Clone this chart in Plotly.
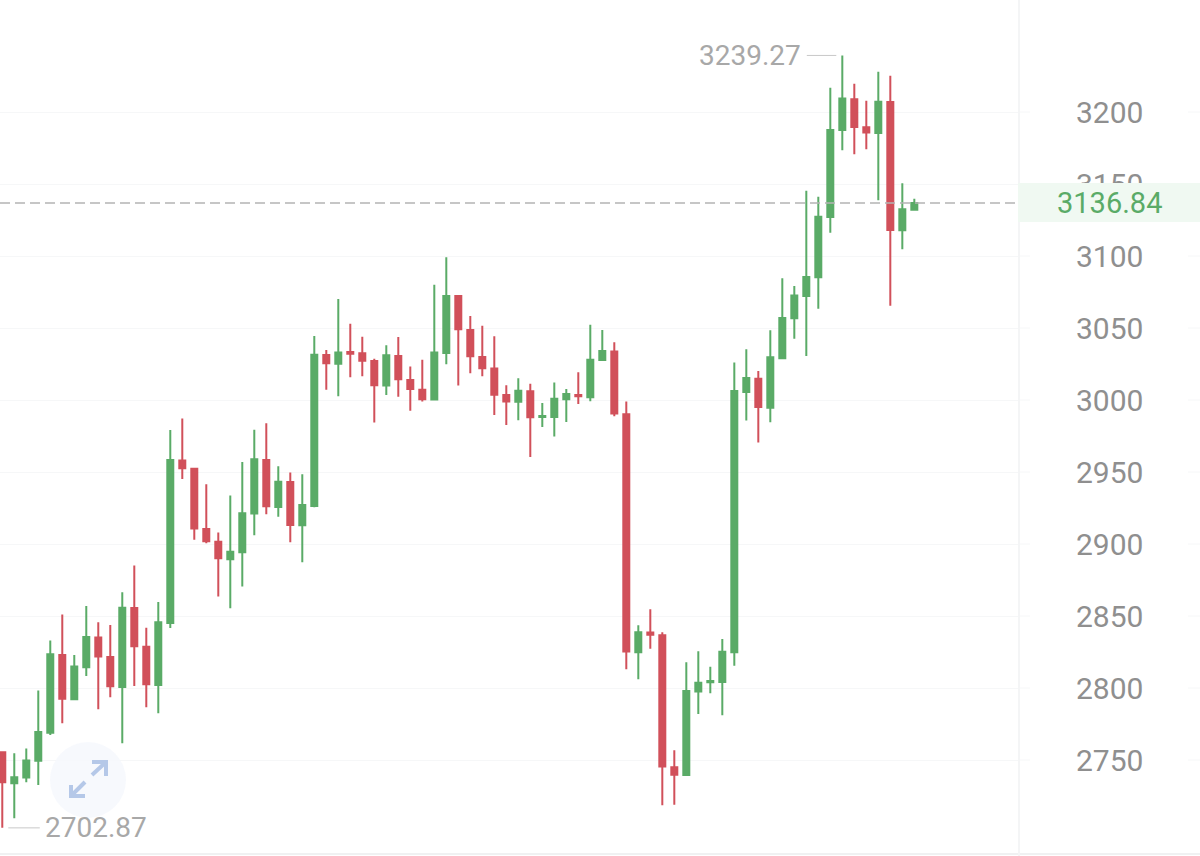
import plotly.graph_objects as go

opens = [2755.4,2733.9,2737.8,2749.4,2769.0,2823.0,2792.2,2814.4,2835.0,2821.6,
         2800.7,2855.6,2828.7,2802.1,2845.2,2957.9,2952.3,2910.5,2901.6,2889.4,
         2894.3,2921.1,2958.4,2925.7,2943.1,2913.0,2926.4,3031.3,3025.2,3033.4,
         3032.5,3027.1,3010.0,3030.6,3013.9,3007.2,3000.3,3032.7,3072.3,3048.6,
         3029.9,3021.8,3003.5,2998.7,3006.1,2988.2,2988.2,3000.5,3003.5,3001.9,
         3027.8,3033.6,2990.1,2824.8,2838.5,2836.6,2745.0,2739.6,2797.5,2804.0,
         2804.2,2824.8,3005.6,3014.8,2994.7,3029.0,3056.8,3072.3,3085.2,3127.1,
         3187.5,3208.8,3189.4,3185.4,3207.0,3117.9,3132.2]
closes = [2734.6,2738.0,2749.6,2769.5,2823.5,2792.6,2814.9,2835.5,2821.8,2801.2,
          2855.8,2829.0,2802.6,2845.7,2958.4,2952.6,2910.7,2901.9,2890.1,2894.7,
          2921.4,2958.9,2926.2,2943.3,2913.2,2927.1,3031.5,3025.5,3032.9,3032.2,
          3027.3,3010.2,3031.1,3014.4,3007.7,3000.5,3032.9,3072.3,3049.1,3030.4,
          3022.1,3003.7,2998.9,3006.5,2988.0,2988.9,3000.9,3004.2,3002.6,3028.0,
          3034.1,2990.7,2825.3,2838.7,2836.9,2745.4,2739.8,2798.0,2803.7,2804.9,
          2825.1,3006.3,3015.3,2995.2,3029.7,3057.0,3072.5,3085.5,3127.3,3187.5,
          3209.3,3189.6,3185.7,3207.2,3118.1,3132.5,3136.84]
highs = [2755.4,2754.7,2757.9,2798.2,2832.9,2851.0,2823.0,2857.0,2845.7,2843.8,
         2866.5,2885.0,2841.9,2859.8,2979.2,2987.1,2952.6,2941.5,2907.9,2933.6,
         2957.0,2979.4,2983.9,2954.0,2949.6,2948.4,3044.5,3034.8,3070.2,3053.0,
         3044.0,3028.7,3038.0,3043.8,3023.2,3028.0,3080.1,3099.1,3072.5,3058.4,
         3051.6,3044.3,3010.2,3015.1,3011.2,2998.0,3012.1,3007.7,3019.3,3052.3,
         3048.6,3040.1,2998.9,2843.6,2854.7,2838.7,2756.8,2817.9,2825.5,2814.8,
         2834.1,3026.1,3035.2,3020.2,3048.4,3084.5,3079.2,3145.4,3141.2,3216.9,
         3239.27,3219.7,3207.9,3228.0,3225.2,3150.5,3139.8]
lows = [2702.87,2709.6,2734.6,2732.7,2767.4,2775.5,2792.2,2808.4,2785.3,2793.6,
        2761.6,2801.4,2786.6,2782.5,2841.7,2945.2,2903.0,2900.5,2863.5,2855.4,
        2870.4,2906.1,2920.7,2919.0,2901.2,2887.3,2925.5,3007.2,3002.6,3015.8,
        3016.5,2984.3,3003.5,3002.3,2992.6,2998.9,3000.3,3024.8,3010.0,3018.6,
        3016.5,2989.6,2982.7,2985.9,2960.5,2981.3,2974.6,2984.8,2997.3,2999.1,
        3027.8,2988.8,2813.0,2806.1,2827.3,2718.6,2719.0,2739.6,2782.0,2796.4,
        2781.1,2815.5,2985.7,2970.5,2984.6,3029.0,3042.6,3030.6,3063.4,3116.2,
        3173.4,3170.7,3174.1,3138.7,3065.5,3104.7,3132.2]
y_ticks = [2750,2800,2850,2900,2950,3000,3050,3100,3150,3200]
last_price = 3136.84
high_price = 3239.27
low_price = 2702.87

GREEN = "#5aab67"
RED = "#d1505a"
GRID = "#f6f7f8"
W, H, PLOT_W = 1200, 856, 1018
FONT = "Roboto"

px = lambda x: x / PLOT_W
py = lambda y: 1 - y / H

fig = go.Figure(go.Candlestick(
    x=list(range(len(opens))), open=opens, high=highs, low=lows, close=closes,
    increasing=dict(line=dict(color=GREEN, width=2), fillcolor=GREEN),
    decreasing=dict(line=dict(color=RED, width=2), fillcolor=RED),
    whiskerwidth=0, hoverinfo="skip",
))

shapes = []
for t in y_ticks:
    for a, b in ((1018, 1030), (1188, 1200)):
        shapes.append(dict(type="line", xref="paper", yref="y", x0=px(a), x1=px(b),
                           y0=t, y1=t, line=dict(color=GRID, width=1), layer="below"))
shapes += [
    dict(type="line", xref="paper", yref="paper", x0=0, x1=px(1200), y0=py(854), y1=py(854),
         line=dict(color="#f0f1f2", width=2), layer="below"),
    dict(type="rect", xref="paper", yref="paper", x0=px(1018), x1=px(1200), y0=py(222), y1=py(183),
         fillcolor="#f0f9f2", line=dict(width=0), layer="above"),
    dict(type="line", xref="paper", yref="y", x0=0, x1=px(1015), y0=last_price, y1=last_price,
         line=dict(color="#b4b4b4", width=1.5, dash="10px,5px"), layer="above"),
    dict(type="circle", xref="paper", yref="paper", x0=px(50), x1=px(126), y0=py(818), y1=py(742),
         fillcolor="rgba(246,248,253,0.85)", line=dict(width=0), layer="above"),
]
def path(points):
    return "M" + " L".join(f"{px(x):.5f},{py(y):.5f}" for x, y in points)
icon = [[(92, 775), (106, 762)], [(92, 762), (106, 762), (106, 776)],
        [(85, 782), (71, 796)], [(71, 785), (71, 796), (85, 796)]]
for pts in icon:
    shapes.append(dict(type="path", xref="paper", yref="paper", path=path(pts),
                       line=dict(color="#b5c8e8", width=4), layer="above"))

annotations = [
    dict(xref="paper", yref="y", x=px(1109.5), y=last_price, text=f"{last_price:.2f}",
         showarrow=False, font=dict(family=FONT, size=29, color=GREEN), xanchor="center", yanchor="middle"),
    dict(x=highs.index(high_price), y=high_price, xref="x", yref="y", text=f"{high_price:.2f}",
         showarrow=True, arrowhead=0, arrowwidth=1, arrowcolor="#c8c8c8", ax=-92, ay=0, standoff=6, borderpad=5,
         font=dict(family=FONT, size=28, color="#a8a8a8")),
    dict(x=lows.index(low_price), y=low_price, xref="x", yref="y", text=f"{low_price:.2f}",
         showarrow=True, arrowhead=0, arrowwidth=1, arrowcolor="#c8c8c8", ax=94, ay=0, standoff=6, borderpad=5,
         font=dict(family=FONT, size=28, color="#a8a8a8")),
]

fig.update_layout(
    width=W, height=H, margin=dict(l=0, r=W - PLOT_W, t=0, b=0, pad=0),
    paper_bgcolor="white", plot_bgcolor="white", showlegend=False, boxgap=0.5, boxgroupgap=0,
    xaxis=dict(visible=False, rangeslider=dict(visible=False), range=[-0.19, 84.64]),
    yaxis=dict(side="right", range=[2683.33, 3277.78], tickvals=y_ticks,
               ticktext=[str(t) for t in y_ticks], tickfont=dict(family=FONT, size=30, color="#8f8f8f"),
               ticks="outside", ticklen=50, tickcolor="rgba(0,0,0,0)", gridcolor=GRID, gridwidth=1,
               showline=True, linecolor="#f4f5f6", linewidth=2, zeroline=False),
    shapes=shapes, annotations=annotations,
)
fig.write_html("out.html", config=dict(displayModeBar=False),
               post_script="document.body.style.margin='0';document.documentElement.style.overflow='hidden';")
